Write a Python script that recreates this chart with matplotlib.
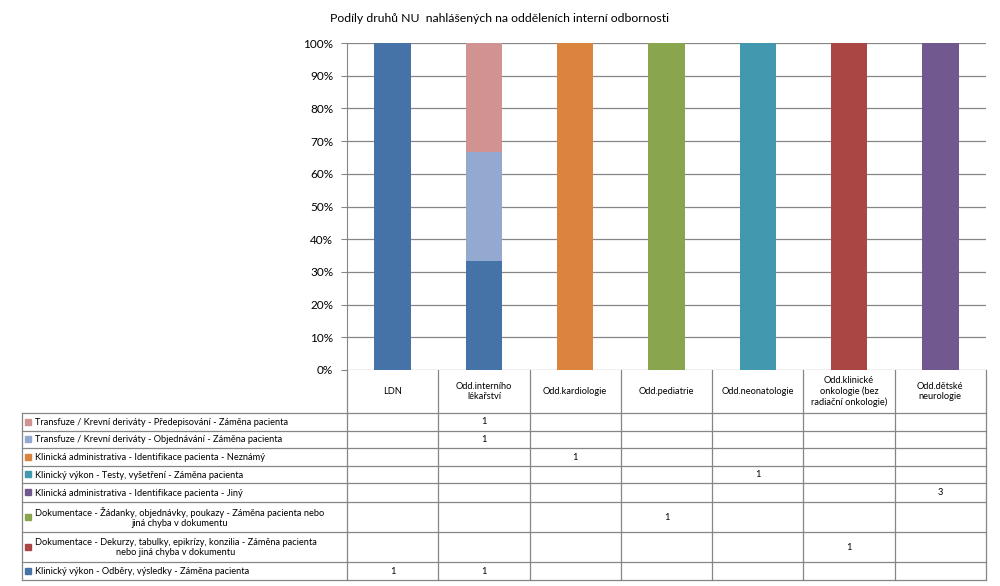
import numpy as np
import matplotlib
matplotlib.use("Agg")
import matplotlib.pyplot as plt

plt.rcParams["font.family"] = ["Lato", "DejaVu Sans"]

title = "Podíly druhů NU  nahlášených na odděleních interní odbornosti"

departments = [
    "LDN",
    "Odd.interního\nlékařství",
    "Odd.kardiologie",
    "Odd.pediatrie",
    "Odd.neonatologie",
    "Odd.klinické\nonkologie (bez\nradiační onkologie)",
    "Odd.dětské\nneurologie",
]

# series in stacking order (bottom -> top)
series_names = [
    "Klinický výkon - Odběry, výsledky - Záměna pacienta",
    "Dokumentace - Dekurzy, tabulky, epikrízy, konzilia - Záměna pacienta\nnebo jiná chyba v dokumentu",
    "Dokumentace - Žádanky, objednávky, poukazy - Záměna pacienta nebo\njiná chyba v dokumentu",
    "Klinická administrativa - Identifikace pacienta - Jiný",
    "Klinický výkon - Testy, vyšetření - Záměna pacienta",
    "Klinická administrativa - Identifikace pacienta - Neznámý",
    "Transfuze / Krevní deriváty - Objednávání - Záměna pacienta",
    "Transfuze / Krevní deriváty - Předepisování - Záměna pacienta",
]
odbery = [1, 1, None, None, None, None, None]
dekurzy = [None, None, None, None, None, 1, None]
zadanky = [None, None, None, 1, None, None, None]
admin_jiny = [None, None, None, None, None, None, 3]
testy = [None, None, None, None, 1, None, None]
admin_neznamy = [None, None, 1, None, None, None, None]
transfuze_obj = [None, 1, None, None, None, None, None]
transfuze_pred = [None, 1, None, None, None, None, None]
series_values = [odbery, dekurzy, zadanky, admin_jiny, testy,
                 admin_neznamy, transfuze_obj, transfuze_pred]
colors = ["#4572A7", "#AA4643", "#89A54E", "#71588F",
          "#4198AF", "#DB843D", "#93A9CF", "#D19392"]

grid_c = "#868686"

W, H = 1000, 586
x0, x1 = 347, 986
y_top, y_bot = 43, 370

fig = plt.figure(figsize=(W / 100, H / 100), dpi=100)
ax = fig.add_axes([x0 / W, 1 - y_bot / H, (x1 - x0) / W, (y_bot - y_top) / H])

vals = np.array([[v if v is not None else 0 for v in s] for s in series_values], dtype=float)
totals = vals.sum(axis=0)
shares = vals / totals * 100
x = np.arange(len(departments))
bottom = np.zeros(len(departments))
for name, row, c in zip(series_names, shares, colors):
    ax.bar(x, row, 0.4, bottom=bottom, color=c, zorder=3)
    bottom += row

ax.set_xlim(-0.5, len(departments) - 0.5)
ax.set_ylim(0, 100)
ax.set_yticks(np.arange(0, 101, 10))
ax.set_yticklabels([f"{t}%" for t in range(0, 101, 10)], fontsize=8.5)
ax.set_xticks([])
ax.grid(axis="y", color=grid_c, linewidth=0.9, zorder=0)
for s in ["top", "right", "bottom"]:
    ax.spines[s].set_visible(False)
ax.spines["left"].set_color(grid_c)
ax.tick_params(axis="y", length=4, color=grid_c, pad=6)
fig.text(0.499, 1 - 18 / H, title, ha="center", va="center", fontsize=8.8)

# data table below the plot (pixel coordinates)
tab = fig.add_axes([0, 0, 1, 1], zorder=-1)
tab.set_xlim(0, W)
tab.set_ylim(H, 0)
tab.axis("off")
lw = 0.9
col_edges = np.linspace(x0, x1, len(departments) + 1)
row_edges = [413, 431, 448, 466, 483, 502, 532, 562, 580]
lx = 22

# header
for xe in col_edges:
    tab.plot([xe, xe], [y_bot, row_edges[-1]], color=grid_c, lw=lw)
tab.plot([lx, lx], [row_edges[0], row_edges[-1]], color=grid_c, lw=lw)
for ye in row_edges:
    tab.plot([lx, x1], [ye, ye], color=grid_c, lw=lw)
for i, d in enumerate(departments):
    cx = (col_edges[i] + col_edges[i + 1]) / 2
    tab.text(cx, (y_bot + row_edges[0]) / 2, d, ha="center", va="center",
             fontsize=6.7, multialignment="center", linespacing=1.2)

# rows: top row = top of stack
for r, k in enumerate(range(len(series_names) - 1, -1, -1)):
    ya, yb = row_edges[r], row_edges[r + 1]
    cy = (ya + yb) / 2
    tab.add_patch(plt.Rectangle((25, cy - 3.2), 6, 6, color=colors[k]))
    tab.text(35, cy + 0.5, series_names[k], ha="left", va="center", fontsize=6.7,
             multialignment="center", linespacing=1.2)
    for i, v in enumerate(series_values[k]):
        if v is not None:
            cx = (col_edges[i] + col_edges[i + 1]) / 2
            tab.text(cx, cy, str(v), ha="center", va="center", fontsize=6.7)

fig.savefig("out.png", dpi=100)
